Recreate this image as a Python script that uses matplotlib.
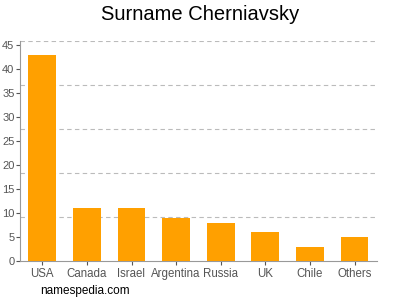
import matplotlib.pyplot as plt
import numpy as np

plt.rc('font', family='Liberation Sans')

countries = ["USA", "Canada", "Israel", "Argentina", "Russia", "UK", "Chile", "Others"]
counts = [43, 11, 11, 9, 8, 6, 3, 5]
yticks = [0, 5, 10, 15, 20, 25, 30, 35, 40, 45]
ymax = 46

fig = plt.figure(figsize=(4, 3), dpi=100)
ax = fig.add_axes([0.05, 0.13, 0.892, 0.735])

x = np.arange(len(countries))
ax.bar(x, counts, width=0.62, color="#FFA000", zorder=3)

# dashed grid at fifths of the axis height, like the original
for g in np.linspace(0, ymax, 6)[1:]:
    ax.axhline(g, color="#bbbbbb", linestyle=(0, (4, 3)), linewidth=0.8, zorder=1)

ax.set_xlim(-0.5, len(countries) - 0.5)
ax.set_ylim(0, ymax)
ax.set_xticks(x, countries)
ax.set_yticks(yticks)
ax.tick_params(colors="#555555", labelsize=8.3, length=3, width=0.8)
ax.tick_params(axis='x', pad=2)
ax.tick_params(axis='y', pad=1, labelsize=8)

for s in ["top", "right"]:
    ax.spines[s].set_visible(False)
for s in ["left", "bottom"]:
    ax.spines[s].set_color("#999999")
    ax.spines[s].set_linewidth(0.8)

fig.text(0.5, 0.95, "Surname Cherniavsky", ha="center", va="center", fontsize=14.5)
fig.text(0.1, 0.03, "namespedia.com", ha="left", va="center", fontsize=8.5)

plt.savefig("out.png", dpi=100)
